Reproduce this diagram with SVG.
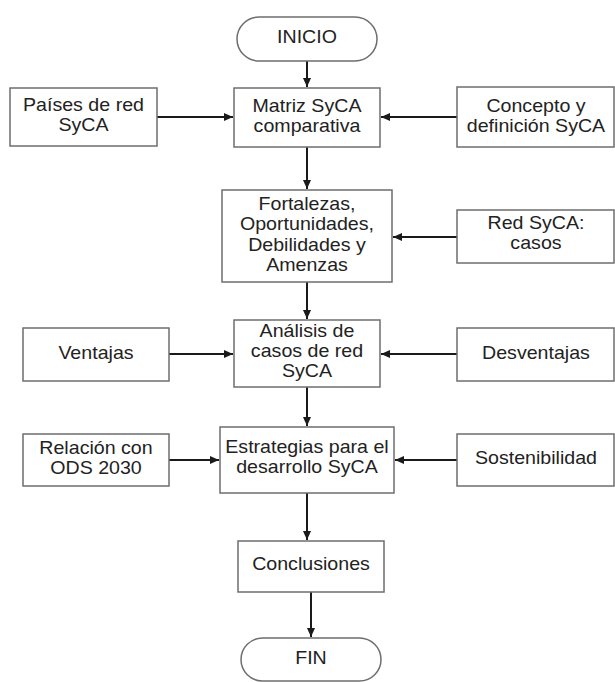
<svg xmlns="http://www.w3.org/2000/svg" width="615" height="682" viewBox="0 0 615 682">
<defs>
<marker id="ah" markerUnits="userSpaceOnUse" markerWidth="10" markerHeight="9" refX="9" refY="4" orient="auto">
<path d="M0,0 L9,4 L0,8 z" fill="#1a1a1a"/>
</marker>
<style>
.box{fill:#fff;stroke:#6e6e6e;stroke-width:1.5}
.t{font-family:"Liberation Sans",Arial,sans-serif;font-size:18px;fill:#222;text-anchor:middle}
.c{fill:none;stroke:#1a1a1a;stroke-width:2;marker-end:url(#ah)}
</style>
</defs>
<rect width="615" height="682" fill="#fff"/>
<g id="connectors">
<line class="c" x1="307" y1="61" x2="307" y2="87"/>
<line class="c" x1="157" y1="117" x2="233" y2="117"/>
<line class="c" x1="457" y1="117" x2="381" y2="117"/>
<line class="c" x1="307" y1="147" x2="307" y2="189"/>
<line class="c" x1="457" y1="237" x2="393" y2="237"/>
<line class="c" x1="307" y1="282" x2="307" y2="319"/>
<line class="c" x1="169" y1="354" x2="233" y2="354"/>
<line class="c" x1="457" y1="354" x2="381" y2="354"/>
<line class="c" x1="307" y1="387" x2="307" y2="426"/>
<line class="c" x1="169" y1="460" x2="219" y2="460"/>
<line class="c" x1="457" y1="460" x2="395" y2="460"/>
<line class="c" x1="307" y1="493" x2="307" y2="540"/>
<line class="c" x1="311" y1="592" x2="311" y2="637"/>
</g>
<g id="inicio">
<rect class="box" x="237" y="17" width="140" height="44" rx="22"/>
<text class="t" x="307" y="43" transform="matrix(1.09 0 0 1 -27.63 0)">INICIO</text>
</g>
<g id="paises">
<rect class="box" x="10" y="88" width="147" height="58"/>
<text class="t" transform="matrix(1.09 0 0 1 -7.52 0)"><tspan x="83.5" y="111">Países de red</tspan><tspan x="83.5" y="131">SyCA</tspan></text>
</g>
<g id="matriz">
<rect class="box" x="234" y="88" width="146" height="59"/>
<text class="t" transform="matrix(1.09 0 0 1 -27.63 0)"><tspan x="307" y="112">Matriz SyCA</tspan><tspan x="307" y="132">comparativa</tspan></text>
</g>
<g id="concepto">
<rect class="box" x="457" y="87" width="157" height="60"/>
<text class="t" transform="matrix(1.09 0 0 1 -48.24 0)"><tspan x="536" y="112">Concepto y</tspan><tspan x="536" y="132">definición SyCA</tspan></text>
</g>
<g id="foda">
<rect class="box" x="222" y="190" width="170" height="92"/>
<text class="t" transform="matrix(1.09 0 0 1 -27.63 0)"><tspan x="307" y="210">Fortalezas,</tspan><tspan x="307" y="230.5">Oportunidades,</tspan><tspan x="307" y="251">Debilidades y</tspan><tspan x="307" y="271">Amenzas</tspan></text>
</g>
<g id="redcasos">
<rect class="box" x="457" y="210" width="157" height="53"/>
<text class="t" transform="matrix(1.09 0 0 1 -48.24 0)"><tspan x="536" y="229">Red SyCA:</tspan><tspan x="536" y="249">casos</tspan></text>
</g>
<g id="ventajas">
<rect class="box" x="23" y="328" width="146" height="53"/>
<text class="t" x="96" y="359" transform="matrix(1.09 0 0 1 -8.64 0)">Ventajas</text>
</g>
<g id="analisis">
<rect class="box" x="234" y="320" width="146" height="67"/>
<text class="t" transform="matrix(1.09 0 0 1 -27.63 0)"><tspan x="307" y="337">Análisis de</tspan><tspan x="307" y="357">casos de red</tspan><tspan x="307" y="377">SyCA</tspan></text>
</g>
<g id="desventajas">
<rect class="box" x="457" y="328" width="157" height="53"/>
<text class="t" x="536" y="359" transform="matrix(1.09 0 0 1 -48.24 0)">Desventajas</text>
</g>
<g id="relacion">
<rect class="box" x="23" y="434" width="146" height="52"/>
<text class="t" transform="matrix(1.09 0 0 1 -8.64 0)"><tspan x="96" y="454">Relación con</tspan><tspan x="96" y="474">ODS 2030</tspan></text>
</g>
<g id="estrategias">
<rect class="box" x="220" y="427" width="174" height="66"/>
<text class="t" transform="matrix(1.09 0 0 1 -27.63 0)"><tspan x="307" y="453">Estrategias para el</tspan><tspan x="307" y="473">desarrollo SyCA</tspan></text>
</g>
<g id="sostenibilidad">
<rect class="box" x="457" y="434" width="157" height="52"/>
<text class="t" x="536" y="464" transform="matrix(1.09 0 0 1 -48.24 0)">Sostenibilidad</text>
</g>
<g id="conclusiones">
<rect class="box" x="238" y="541" width="146" height="51"/>
<text class="t" x="311" y="570" transform="matrix(1.09 0 0 1 -27.99 0)">Conclusiones</text>
</g>
<g id="fin">
<rect class="box" x="241" y="638" width="140" height="43" rx="21.5"/>
<text class="t" x="311" y="664" transform="matrix(1.09 0 0 1 -27.99 0)">FIN</text>
</g>
</svg>
